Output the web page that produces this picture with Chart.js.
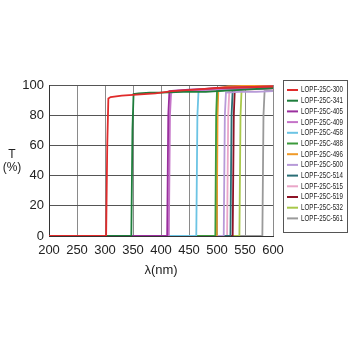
<!DOCTYPE html>
<html>
<head>
<meta charset="utf-8">
<script src="https://cdn.jsdelivr.net/npm/chart.js@4.4.1/dist/chart.umd.min.js"></script>
<style>
	html, body { margin: 0; padding: 0; background: #fff; }
	#wrap { width: 350px; height: 350px; }
</style>
</head>
<body>
<div id="wrap"><canvas id="chart_filters" width="350" height="350"></canvas></div>
<script>
// filter names and colours (legend order)
var filter_names = ["LOPF-25C-300", "LOPF-25C-341", "LOPF-25C-405", "LOPF-25C-409", "LOPF-25C-458",
	"LOPF-25C-488", "LOPF-25C-496", "LOPF-25C-500", "LOPF-25C-514", "LOPF-25C-515",
	"LOPF-25C-519", "LOPF-25C-532", "LOPF-25C-561"];
var filter_colors = ["#e02b2b", "#1e7d3c", "#9a2f9e", "#c573c8", "#6cc4e4",
	"#3c9a3c", "#f09a28", "#b79ad8", "#2a6e76", "#eaa6c8",
	"#8e1426", "#a8c84a", "#9a9a9a"];

// wavelength (nm) / transmission (%), one pair of arrays per filter
var wl_300 = [200, 302, 304, 306, 310, 330, 350, 370, 390, 420, 460, 500, 550, 600];
var t_300  = [0,   0,   60,  91,  92,  93,  93.5, 94, 94.5, 96, 97,  98,  98.5, 99];
var wl_341 = [200, 347, 349, 351, 360, 380, 400, 440, 480, 500, 550, 600];
var t_341  = [0,   0,   70,  94,  94.5, 95,  95,  95.5, 95.5, 96, 97, 98];
var wl_405 = [200, 411, 413, 415, 430, 450, 480, 500, 550, 600];
var t_405  = [0,   0,   80,  96,  96.5, 97, 97.5, 98, 98.5, 99];
var wl_409 = [200, 414, 416, 418, 430, 460, 500, 550, 600];
var t_409  = [0,   0,   80,  95,  96,  96.5, 97, 97.5, 98];
var wl_458 = [200, 463, 465, 467, 480, 500, 550, 600];
var t_458  = [0,   0,   80,  96,  97,  97.5, 98, 98.5];
var wl_488 = [200, 497, 498.5, 500, 520, 550, 600];
var t_488  = [0,   0,   80,  96,  97,  97.5, 98];
var wl_496 = [200, 499.5, 501, 502.5, 520, 550, 600];
var t_496  = [0,   0,   80,  98,  99,  99.5, 100];
var wl_500 = [200, 512, 514, 516, 540, 570, 600];
var t_500  = [0,   0,   80,  95,  95.5, 95.5, 96];
var wl_514 = [200, 524, 526, 528, 550, 600];
var t_514  = [0,   0,   80,  97,  97.5, 98];
var wl_515 = [200, 518, 520, 522, 550, 600];
var t_515  = [0,   0,   80,  96,  97,  97.5];
var wl_519 = [200, 528, 530, 532, 550, 600];
var t_519  = [0,   0,   80,  99,  99,  99.5];
var wl_532 = [200, 540, 542, 544, 570, 600];
var t_532  = [0,   0,   80,  98,  98.5, 99];
var wl_561 = [200, 581, 583, 585, 600];
var t_561  = [0,   0,   80,  96,  96.5];

var wl_series = [wl_300, wl_341, wl_405, wl_409, wl_458, wl_488, wl_496, wl_500, wl_514, wl_515, wl_519, wl_532, wl_561];
var t_series  = [t_300, t_341, t_405, t_409, t_458, t_488, t_496, t_500, t_514, t_515, t_519, t_532, t_561];

// axis ticks
var x_ticks = [200, 250, 300, 350, 400, 450, 500, 550, 600];
var y_ticks = [0, 20, 40, 60, 80, 100];

var text_font = "'Liberation Sans', Arial, sans-serif";

/**
 * Ritar ram + teckenförklaring till höger, samt axeltitlar
 */
var legend_box = {
	id: 'legend_box',
	afterDraw: function(chart)
	{
		var ctx = chart.ctx;
		ctx.save();
		ctx.strokeStyle = "#555";
		ctx.lineWidth = 1;
		ctx.strokeRect(283.5, 80.5, 64, 152);

		ctx.font = "9px " + text_font;
		ctx.textBaseline = "middle";
		ctx.fillStyle = "#222";
		for(var i = 0; i < filter_names.length; i++)
		{
			var y = 90 + i * 10.7;
			ctx.strokeStyle = filter_colors[i];
			ctx.lineWidth = 2;
			ctx.beginPath();
			ctx.moveTo(287, y);
			ctx.lineTo(298, y);
			ctx.stroke();

			var w = ctx.measureText(filter_names[i]).width;
			ctx.save();
			ctx.translate(301, y);
			ctx.scale(42 / w, 1);
			ctx.fillText(filter_names[i], 0, 0);
			ctx.restore();
		}

		//"T (%)" till vänster
		ctx.font = "12px " + text_font;
		ctx.textAlign = "center";
		ctx.fillStyle = "#222";
		ctx.fillText("T", 12, 155);
		ctx.fillText("(%)", 12, 168);

		//"λ(nm)" under x-axeln
		ctx.font = "13px " + text_font;
		ctx.fillText("λ(nm)", 161, 270);
		ctx.restore();
	}
};

var datasets = [];
for(var i = 0; i < filter_names.length; i++)
{
	var points = [];
	for(var j = 0; j < wl_series[i].length; j++)
	{
		points.push({ x: wl_series[i][j], y: t_series[i][j] });
	}
	datasets.push({
		label: filter_names[i],
		data: points,
		borderColor: filter_colors[i],
		backgroundColor: filter_colors[i],
		borderWidth: 1.8,
		pointRadius: 0,
		tension: 0,
		fill: false
	});
}

var params_filters = {
	type: 'line',
	data: { datasets: datasets },
	options: {
		responsive: false,
		animation: false,
		layout: { padding: { top: 85, right: 77, left: 0, bottom: 0 } },
		plugins: {
			legend: { display: false },
			tooltip: { enabled: false }
		},
		scales: {
			x: {
				type: 'linear',
				min: 200,
				max: 600,
				afterBuildTicks: function(scale) { scale.ticks = x_ticks.map(function(v) { return { value: v }; }); },
				afterFit: function(scale) { scale.height = 114; },
				grid: { color: "#8a8a8a", lineWidth: 1, drawTicks: false },
				border: { color: "#333", width: 1 },
				ticks: { color: "#222", font: { family: text_font, size: 13 }, padding: 7, maxRotation: 0 }
			},
			y: {
				min: 0,
				max: 100,
				afterBuildTicks: function(scale) { scale.ticks = y_ticks.map(function(v) { return { value: v }; }); },
				afterFit: function(scale) { scale.width = 49; },
				grid: { color: "#555", lineWidth: 1, drawTicks: false },
				border: { color: "#333", width: 1 },
				ticks: { color: "#222", font: { family: text_font, size: 13 }, padding: 5 }
			}
		}
	},
	plugins: [legend_box]
};
new Chart(document.getElementById("chart_filters"), params_filters);
</script>
</body>
</html>
